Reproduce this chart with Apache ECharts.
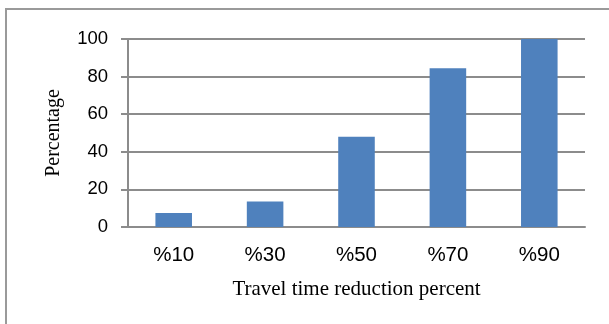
<!DOCTYPE html>
<html>
<head>
<meta charset="utf-8">
<script src="https://cdn.jsdelivr.net/npm/echarts@6/dist/echarts.min.js"></script>
<style>
html,body{margin:0;padding:0;background:#fff;}
#c{width:609px;height:324px;}
</style>
</head>
<body>
<div id="c"></div>
<script>
var categories = ['%10', '%30', '%50', '%70', '%90'];
var values = [7.4, 13.6, 48, 84.4, 100];
var yTicks = [0, 20, 40, 60, 80, 100];

var chart = echarts.init(document.getElementById('c'), null, {renderer: 'canvas'});
chart.setOption({
  animation: false,
  backgroundColor: '#fff',
  graphic: [{
    type: 'rect',
    shape: {x: 6, y: 9, width: 700, height: 400},
    style: {fill: 'none', stroke: '#9a9a9a', lineWidth: 2},
    silent: true
  }],
  grid: {left: 128, top: 39, right: 24, bottom: 97, containLabel: false},
  xAxis: {
    type: 'category',
    data: categories,
    axisLine: {show: true, lineStyle: {color: '#8c8c8c', width: 2}},
    axisTick: {show: false},
    axisLabel: {color: '#000', fontFamily: 'Liberation Sans', fontSize: 20.5, margin: 18},
    name: 'Travel time reduction percent',
    nameLocation: 'middle',
    nameGap: 52,
    nameTextStyle: {color: '#000', fontFamily: 'Liberation Serif', fontSize: 21}
  },
  yAxis: {
    type: 'value',
    min: yTicks[0],
    max: yTicks[yTicks.length - 1],
    interval: yTicks[1] - yTicks[0],
    axisLine: {show: true, lineStyle: {color: '#8c8c8c', width: 2}},
    axisTick: {show: true, length: 7, lineStyle: {color: '#8c8c8c', width: 2}},
    splitLine: {show: true, lineStyle: {color: '#8c8c8c', width: 2}},
    axisLabel: {color: '#000', fontFamily: 'Liberation Sans', fontSize: 18.5, margin: 20},
    name: 'Percentage',
    nameLocation: 'middle',
    nameGap: 64,
    nameTextStyle: {color: '#000', fontFamily: 'Liberation Serif', fontSize: 20}
  },
  series: [{
    type: 'bar',
    data: values,
    barWidth: '40%',
    itemStyle: {color: '#4F81BD'}
  }]
});
</script>
</body>
</html>
